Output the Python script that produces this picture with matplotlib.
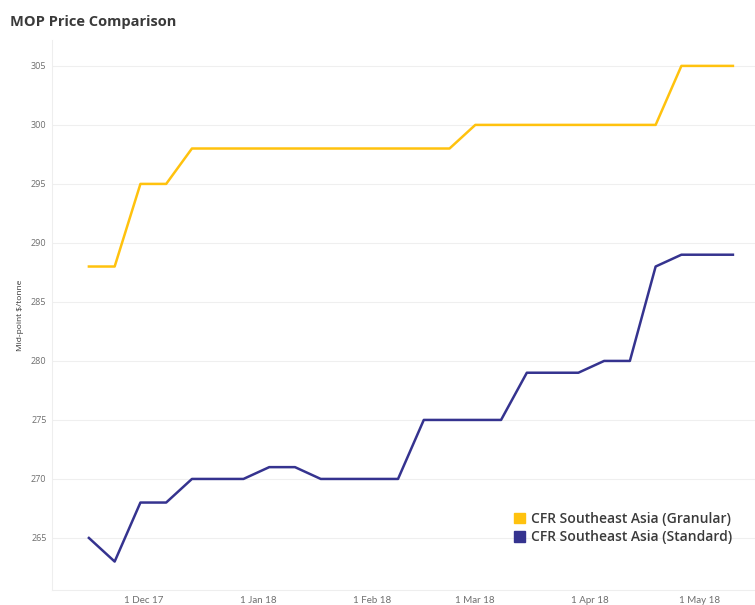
import matplotlib
matplotlib.use("Agg")
import matplotlib.pyplot as plt
import pandas as pd

# weekly assessments (Thursdays)
dates = pd.date_range("2017-11-16", "2018-05-10", freq="7D")
granular = [288, 288, 295, 295, 298, 298, 298, 298, 298, 298, 298, 298, 298,
            298, 298, 300, 300, 300, 300, 300, 300, 300, 300, 305, 305, 305]
standard = [265, 263, 268, 268, 270, 270, 270, 271, 271, 270, 270, 270, 270,
            275, 275, 275, 275, 279, 279, 279, 280, 280, 288, 289, 289, 289]
tick_dates = pd.to_datetime(["2017-12-01", "2018-01-01", "2018-02-01",
                             "2018-03-01", "2018-04-01", "2018-05-01"])
tick_labels = ["1 Dec 17", "1 Jan 18", "1 Feb 18", "1 Mar 18", "1 Apr 18", "1 May 18"]
y_ticks = [265, 270, 275, 280, 285, 290, 295, 300, 305]

plt.rcParams['font.family'] = ['Open Sans', 'DejaVu Sans']

fig = plt.figure(figsize=(7.55, 6.05), dpi=100)
ax = fig.add_axes([0.069, 0.025, 0.931, 0.909])

ax.plot(dates, granular, color="#FFC20E", lw=1.8, label="CFR Southeast Asia (Granular)")
ax.plot(dates, standard, color="#35338F", lw=1.8, label="CFR Southeast Asia (Standard)")

ax.set_xlim(pd.Timestamp("2017-11-06"), pd.Timestamp("2018-05-16"))
ax.set_ylim(260.6, 307.2)
ax.set_yticks(y_ticks)
ax.set_xticks(tick_dates)
ax.set_xticklabels(tick_labels, va="baseline", family=["Lato", "DejaVu Sans"])
ax.tick_params(axis="both", length=0, labelsize=6.5, colors="#6e6e6e", pad=4)
ax.tick_params(axis="x", pad=9.5, labelsize=7)
ax.grid(axis="y", color="#efefef", lw=0.8)
ax.set_axisbelow(True)
for side in ["top", "right"]:
    ax.spines[side].set_visible(False)
for side in ["left", "bottom"]:
    ax.spines[side].set_color("#eeeeee")
    ax.spines[side].set_linewidth(0.8)

ax.set_ylabel("Mid-point $/tonne", fontsize=6, color="#333333", labelpad=5)

fig.text(0.013, 0.963, "MOP Price Comparison", fontsize=10.5, fontweight="bold",
         color="#3a3a3a", ha="left", va="center")

handles = [plt.Rectangle((0, 0), 1, 1, color="#FFC20E"),
           plt.Rectangle((0, 0), 1, 1, color="#35338F")]
leg = ax.legend(handles, ["CFR Southeast Asia (Granular)", "CFR Southeast Asia (Standard)"],
                loc="lower right", bbox_to_anchor=(0.985, 0.06), frameon=False,
                prop={"size": 10, "weight": "semibold"},
                handlelength=0.75, handleheight=0.75, handletextpad=0.45,
                labelspacing=0.3)
for t in leg.get_texts():
    t.set_color("#3a3a3a")

fig.savefig("out.png", dpi=100)
